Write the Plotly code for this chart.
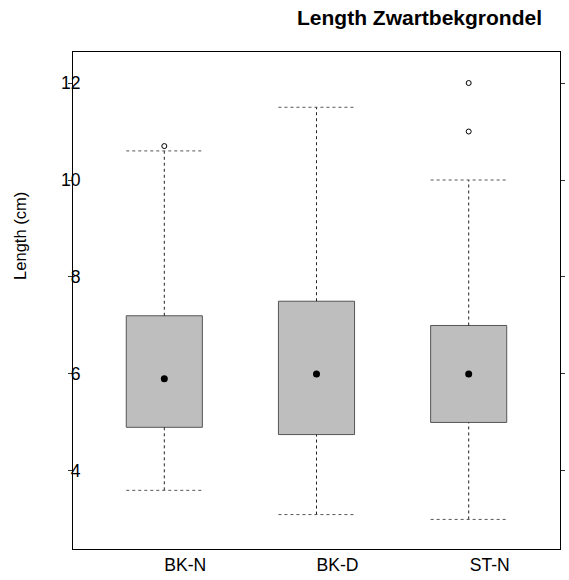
import plotly.graph_objects as go

groups = ["BK-N", "BK-D", "ST-N"]
lower_whisker = [3.6, 3.1, 3.0]
q1 = [4.9, 4.75, 5.0]
median = [5.9, 6.0, 6.0]
q3 = [7.2, 7.5, 7.0]
upper_whisker = [10.6, 11.5, 10.0]
outliers = [[10.7], [], [11.0, 12.0]]
y_ticks = [4, 6, 8, 10, 12]
y_ticktext = ["\u20074", "\u20076", "\u20078", "10", "12"]

half = 0.25
fig = go.Figure()

for i, g in enumerate(groups):
    x = i + 1
    fig.add_trace(go.Scatter(
        x=[x - half, x + half, x + half, x - half, x - half],
        y=[q1[i], q1[i], q3[i], q3[i], q1[i]],
        mode="lines", fill="toself", fillcolor="#BEBEBE",
        line=dict(color="#555555", width=1), hoverinfo="skip", showlegend=False))
    for a, b in [(lower_whisker[i], q1[i]), (q3[i], upper_whisker[i])]:
        fig.add_trace(go.Scatter(
            x=[x, x], y=[a, b], mode="lines",
            line=dict(color="#222222", width=1, dash="3px,3px"),
            hoverinfo="skip", showlegend=False))
    for v in [lower_whisker[i], upper_whisker[i]]:
        fig.add_trace(go.Scatter(
            x=[x - half, x + half], y=[v, v], mode="lines",
            line=dict(color="#555555", width=1, dash="3px,3px"),
            hoverinfo="skip", showlegend=False))
    fig.add_trace(go.Scatter(
        x=[x], y=[median[i]], mode="markers",
        marker=dict(color="black", size=7, symbol="circle"),
        showlegend=False))
    if outliers[i]:
        fig.add_trace(go.Scatter(
            x=[x] * len(outliers[i]), y=outliers[i], mode="markers",
            marker=dict(color="white", size=5, symbol="circle",
                        line=dict(color="black", width=1)),
            showlegend=False))

fig.update_layout(
    width=569, height=580,
    margin=dict(l=73, r=4, t=52, b=31),
    paper_bgcolor="white", plot_bgcolor="white",
    font=dict(family="Liberation Sans, Arial, sans-serif", size=17.6, color="black"),
    xaxis=dict(range=[0.4, 3.6], tickvals=[1, 2, 3], ticktext=groups,
               showgrid=False, zeroline=False, showline=True, linecolor="black",
               linewidth=1, mirror=True, ticks="", ticklabelshift=21,
               tickfont=dict(size=17.6)),
    yaxis=dict(range=[2.39, 12.64], tickvals=y_ticks, ticktext=y_ticktext,
               showgrid=False, zeroline=False, showline=True, linecolor="black",
               linewidth=1, mirror="ticks", ticks="outside", ticklen=4,
               tickcolor="#333333", ticklabelstandoff=-16,
               tickfont=dict(size=17.6)),
    annotations=[
        dict(text="<b>Length Zwartbekgrondel</b>", xref="paper", yref="paper",
             x=0.9675, y=1.0, xanchor="right", yanchor="middle", yshift=35,
             showarrow=False, font=dict(size=21)),
        dict(text="Length (cm)", xref="paper", yref="paper", x=0, xshift=-53,
             xanchor="center", y=0.63, yanchor="middle", textangle=-90,
             showarrow=False, font=dict(size=16.5)),
    ],
)

fig.write_html("out.html")
